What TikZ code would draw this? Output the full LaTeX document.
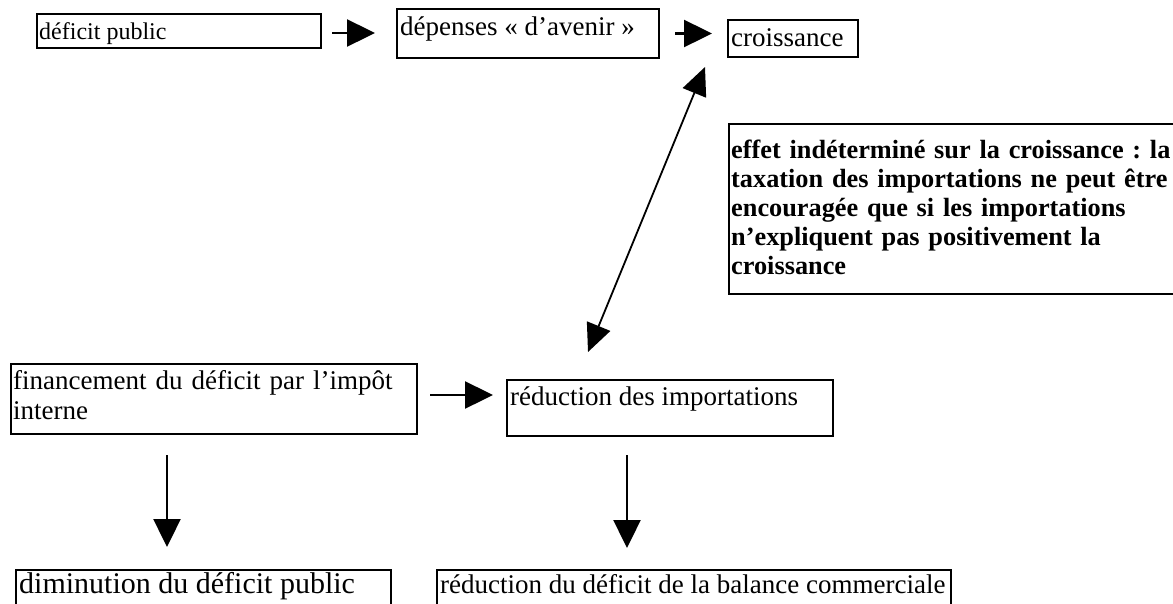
\documentclass[tikz,border=0pt]{standalone}
\usepackage{fontspec}
\setmainfont{Liberation Serif}
\usetikzlibrary{arrows.meta,calc}
\begin{document}
\frenchspacing
\begin{tikzpicture}[x=1pt,y=-1pt,
  bx/.style={draw, line width=2pt, anchor=north west, inner sep=0pt},
  txt/.style={anchor=base west, inner sep=0pt, font=\fontsize{27}{30}\selectfont},
  arr/.style={line width=2.4pt, -{Triangle[length=28pt,width=27pt]}},
  dbl/.style={line width=1.8pt, {Triangle[length=28pt,width=25pt]}-{Triangle[length=28pt,width=25pt]}}]
\useasboundingbox (0,0) rectangle (1173,603);
% boxes
\node[bx, minimum width=284pt, minimum height=34pt] (b1) at (36,13) {};
\node[bx, minimum width=262pt, minimum height=49pt] (b2) at (396,8) {};
\node[bx, minimum width=130pt, minimum height=37pt] (b3) at (727,19) {};
\node[bx, minimum width=470pt, minimum height=170pt] (b7) at (728,123) {};
\node[bx, minimum width=406pt, minimum height=70pt] (b4) at (10,363) {};
\node[bx, minimum width=326pt, minimum height=56pt] (b5) at (506,379) {};
\node[bx, minimum width=375pt, minimum height=50pt] (b6) at (15,569) {};
\node[bx, minimum width=514pt, minimum height=50pt] (b8) at (436,569) {};
% texts
\node[txt, font=\fontsize{24}{27}\selectfont] (t1) at (39,39) {déficit public};
\node[txt] (t2) at (400,35) {dépenses « d’avenir »};
\node[txt] (t3) at (731,46) {croissance};
\node[txt, text width=462pt, align=left, font=\bfseries\fontsize{26.3}{29.2}\selectfont] (t7) at (731,158)
  {effet indéterminé sur la croissance : la\\taxation des importations ne peut être\\encouragée que si les importations\\n’expliquent pas positivement la\\croissance};
\node[txt, text width=400pt, align=left] (t4) at (13,389) {financement du déficit par l’impôt\\interne};
\node[txt] (t5) at (510,405) {réduction des importations};
\node[txt, font=\fontsize{30}{33}\selectfont] (t6) at (19,593) {diminution du déficit public};
\node[txt] (t8) at (440,593) {réduction du déficit de la balance commerciale};
% connectors
\draw[arr, shorten <=10pt, shorten >=21pt] ([yshift=-2pt]b1.east) -- ([yshift=-2pt]b1.east -| b2.west);
\draw[arr, shorten <=15pt, shorten >=15pt] (b2.east) -- (b2.east -| b3.west);
\coordinate (dlo) at ($(b5.north west)+(82,-27)$);
\coordinate (dhi) at ($(b3.south west)+(-22,9)$);
\draw[dbl] (dlo) -- (dhi);
\draw[arr, shorten <=12pt, shorten >=13pt] ([yshift=4pt]b4.east) -- ([yshift=4pt]b4.east -| b5.west);
\draw[arr, shorten <=20pt, shorten >=22pt] ($(b4.south west)+(157,0)$) -- ($(b6.north west)+(152,0)$);
\draw[arr, shorten <=18pt, shorten >=21pt] ($(b5.south west)+(121,0)$) -- ($(b8.north west)+(191,0)$);
\end{tikzpicture}
\end{document}
